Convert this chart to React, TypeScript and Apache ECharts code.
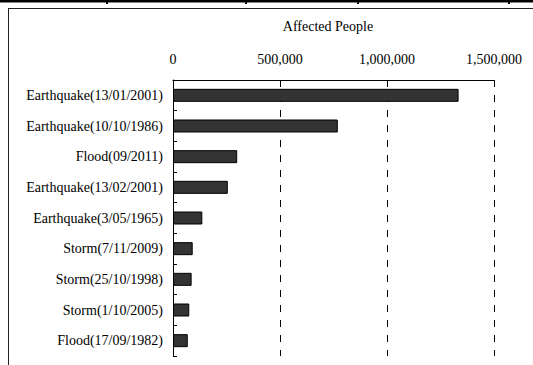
import React, { useEffect, useRef } from "react";
import * as echarts from "echarts";

const categories = [
  "Earthquake(13/01/2001)",
  "Earthquake(10/10/1986)",
  "Flood(09/2011)",
  "Earthquake(13/02/2001)",
  "Earthquake(3/05/1965)",
  "Storm(7/11/2009)",
  "Storm(25/10/1998)",
  "Storm(1/10/2005)",
  "Flood(17/09/1982)",
];
const affected = [1334529, 770000, 300000, 256021, 137000, 92000, 87000, 76000, 69000];
const axisName = "Affected People";
const xMin = 0;
const xMax = 1500000;
const xStep = 500000;

const FONT = "'Liberation Serif', 'Times New Roman', serif";

export default function App() {
  const ref = useRef<HTMLDivElement>(null);
  useEffect(() => {
    if (!ref.current) return;
    const chart = echarts.init(ref.current, undefined, { renderer: "svg" });
    chart.setOption({
      animation: false,
      backgroundColor: "#fff",
      grid: { left: 173, top: 80, width: 321, height: 276 },
      xAxis: {
        type: "value",
        position: "top",
        min: xMin,
        max: xMax,
        interval: xStep,
        name: axisName,
        nameLocation: "middle",
        nameGap: 47,
        nameTextStyle: { fontFamily: FONT, fontSize: 14, color: "#000", padding: [0, 11, 0, 0] },
        axisLine: { show: true, lineStyle: { color: "#000", width: 1 } },
        axisTick: { show: false },
        axisLabel: {
          fontFamily: FONT,
          fontSize: 14,
          color: "#000",
          margin: 14,
          formatter: (v: number) => v.toLocaleString("en-US"),
        },
        splitLine: {
          show: true,
          lineStyle: { color: "#000", type: [7, 8], width: 1 },
        },
      },
      yAxis: {
        type: "category",
        data: categories,
        inverse: true,
        axisLine: { show: true, lineStyle: { color: "#000", width: 1 } },
        axisTick: { show: true, inside: true, length: 4, lineStyle: { color: "#000" } },
        axisLabel: { fontFamily: FONT, fontSize: 14, color: "#000", margin: 10 },
        splitLine: { show: false },
      },
      series: [
        {
          type: "bar",
          data: affected,
          barWidth: 13,
          itemStyle: { color: "#333333", borderColor: "#000", borderWidth: 1 },
        },
      ],
      graphic: [
        { type: "rect", shape: { x: 0, y: 0, width: 533, height: 2.5 }, style: { fill: "#000" }, silent: true },
        { type: "rect", shape: { x: 106, y: 2, width: 2, height: 2 }, style: { fill: "#000" }, silent: true },
        { type: "rect", shape: { x: 245, y: 2, width: 2, height: 2 }, style: { fill: "#000" }, silent: true },
        { type: "rect", shape: { x: 357, y: 2, width: 2, height: 2 }, style: { fill: "#000" }, silent: true },
        { type: "rect", shape: { x: 508, y: 2, width: 2, height: 2 }, style: { fill: "#000" }, silent: true },
        { type: "line", shape: { x1: 8, y1: 8.5, x2: 533, y2: 8.5 }, style: { stroke: "#222", lineWidth: 1 }, silent: true },
        { type: "line", shape: { x1: 8.5, y1: 8, x2: 8.5, y2: 365 }, style: { stroke: "#222", lineWidth: 1 }, silent: true },
      ],
    });
    return () => chart.dispose();
  }, []);
  return (
    <div
      ref={ref}
      style={{ position: "fixed", left: 0, top: 0, width: 533, height: 365 }}
    />
  );
}
